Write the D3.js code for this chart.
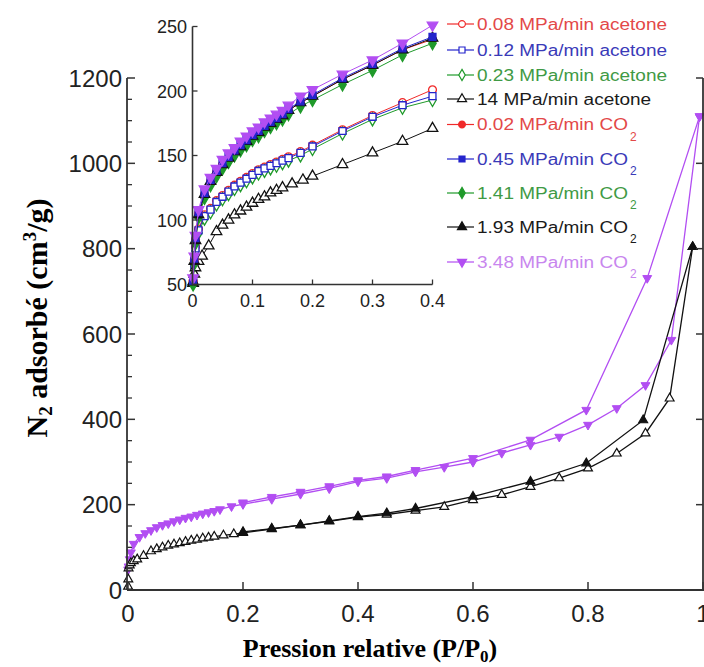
<!DOCTYPE html>
<html><head><meta charset="utf-8">
<script src="https://cdn.jsdelivr.net/npm/d3@7"></script>
<style>body{margin:0;background:#fff} svg{display:block}</style>
</head><body>
<svg id="c" width="704" height="667"></svg>
<script>
// ---------- tick labels ----------
const mainXTicks = [0, 0.2, 0.4, 0.6, 0.8, 1];
const mainXTickLabels = ["0", "0.2", "0.4", "0.6", "0.8", "1"];
const mainYTicks = [0, 200, 400, 600, 800, 1000, 1200];
const mainYMinorTicks = [50,100,150,250,300,350,450,500,550,650,700,750,850,900,950,1050,1100,1150];
const insetXTicks = [0, 0.1, 0.2, 0.3, 0.4];
const insetXTickLabels = ["0", "0.1", "0.2", "0.3", "0.4"];
const insetYTicks = [50, 100, 150, 200, 250];

// ---------- main plot data ----------
const magAdsX = [0.0003,0.001,0.003,0.005,0.01,0.02,0.03,0.04,0.05,0.06,0.07,0.08,0.09,0.10,0.11,0.12,0.13,0.14,0.15,0.16,0.18,0.20,0.25,0.30,0.35,0.40,0.45,0.50,0.55,0.60,0.65,0.70,0.75,0.80,0.85,0.90,0.945,0.994];
const magAdsY = [48,55,72,88,108,124,133,140,147,152,156,161,165,169,172,176,179,182,185,189,196,201,213,225,238,254,262,277,288,300,321,340,359,387,426,480,586,1110];
const magDesX = [0.994,0.903,0.797,0.70,0.60,0.50,0.45,0.40,0.35,0.30,0.25,0.20];
const magDesY = [1110,731,422,352,309,281,266,257,243,230,218,205];
const blkAdsX = [0.0002,0.0005,0.001,0.003,0.005,0.01,0.016,0.027,0.04,0.05,0.06,0.07,0.08,0.09,0.10,0.11,0.12,0.13,0.14,0.15,0.166,0.184,0.20,0.25,0.30,0.35,0.40,0.45,0.50,0.55,0.60,0.65,0.70,0.75,0.80,0.85,0.90,0.942,0.982];
const blkAdsY = [8,25,51,58,63,68,72,80,91,96,100,104,107,110,113,116,118,121,123,125,128,131,134,143,152,161,171,177,186,195,211,223,242,262,285,320,367,449,804];
const blkDesX = [0.982,0.896,0.797,0.70,0.60,0.50,0.45,0.40,0.35,0.30,0.25,0.20];
const blkDesY = [804,398,297,254,219,191,180,172,162,152,144,136];

// ---------- inset data ----------
const xCO2 = [0.001,0.003,0.005,0.01,0.02,0.03,0.04,0.05,0.06,0.07,0.08,0.09,0.10,0.11,0.12,0.13,0.14,0.15,0.16,0.18,0.20,0.25,0.30,0.35,0.40];
const co2_002 = [52,69,85,105,120,130,137,143,148,153,157,161,165,168,172,175,178,181,185,191,196,209,220,232,240];
const co2_045 = [53,70,86,106,121,131,138,144,149,154,158,162,166,169,173,176,179,182,186,192,197,210,221,233,242];
const co2_141 = [50,66,82,102,117,127,134,140,145,150,154,158,162,165,169,172,175,178,182,188,193,205,216,228,237];
const co2_193 = [52,68,84,104,120,130,137,143,148,153,157,161,165,168,172,175,178,181,185,191,196,209,220,232,241];
const co2_348 = [55,72,88,108,124,133,140,147,152,156,161,165,169,172,176,179,182,185,189,196,201,213,224,237,251];
const xAce = [0.001,0.003,0.005,0.01,0.02,0.03,0.04,0.05,0.06,0.07,0.08,0.09,0.10,0.11,0.12,0.13,0.14,0.15,0.16,0.18,0.20,0.25,0.30,0.35,0.40];
const ace_008 = [53,66,79,93,104,109,115,119,123,127,130,133,136,139,141,143,145,147,149,153,158,170,181,191,201];
const ace_012 = [52,65,78,92,103,108,114,118,122,126,129,132,135,138,140,142,144,146,148,152,157,169,180,189,196];
const ace_023 = [51,64,76,90,101,106,112,116,120,124,127,130,133,136,138,140,142,144,146,150,155,167,178,187,193];
const xAce14 = [0.001,0.003,0.005,0.01,0.016,0.027,0.04,0.05,0.06,0.07,0.08,0.09,0.10,0.11,0.12,0.13,0.14,0.15,0.166,0.184,0.20,0.25,0.30,0.35,0.40];
const ace_14 = [51,58,63,68,72,80,91,96,100,104,107,110,113,116,118,121,123,125,128,131,134,143,152,161,171];

// ---------- legend ----------
const legendNames = ["0.08 MPa/min acetone","0.12 MPa/min acetone","0.23 MPa/min acetone","14 MPa/min acetone",
  "0.02 MPa/min CO","0.45 MPa/min CO","1.41 MPa/min CO","1.93 MPa/min CO","3.48 MPa/min CO"];

const C = {red:"#f02a2a", blue:"#2424cc", green:"#1f9a2a", black:"#111111", mag:"#b24ef2"};
const T = {red:"#e34848", blue:"#3a3ab8", green:"#3f9a45", black:"#1a1a1a", mag:"#c886ee"};

const insetSeries = [
  {x:xAce, y:ace_008, col:"red", sym:"circle", fill:false},
  {x:xAce, y:ace_023, col:"green", sym:"diamond", fill:false},
  {x:xAce, y:ace_012, col:"blue", sym:"square", fill:false},
  {x:xAce14, y:ace_14, col:"black", sym:"triangle", fill:false},
  {x:xCO2, y:co2_002, col:"red", sym:"circle", fill:true},
  {x:xCO2, y:co2_141, col:"green", sym:"diamond", fill:true},
  {x:xCO2, y:co2_193, col:"black", sym:"triangle", fill:true},
  {x:xCO2, y:co2_045, col:"blue", sym:"square", fill:true},
  {x:xCO2, y:co2_348, col:"mag", sym:"down", fill:true}
];
const legendSpec = [
  {col:"red", sym:"circle", fill:false},{col:"blue", sym:"square", fill:false},
  {col:"green", sym:"diamond", fill:false},{col:"black", sym:"triangle", fill:false},
  {col:"red", sym:"circle", fill:true},{col:"blue", sym:"square", fill:true},
  {col:"green", sym:"diamond", fill:true},{col:"black", sym:"triangle", fill:true},
  {col:"mag", sym:"down", fill:true}
];
const legendY = [24, 50, 75, 99, 124.5, 159, 193, 227, 262];

const svg = d3.select("#c");
const SANS = "'Liberation Sans', Arial, sans-serif";
const SERIF = "'Liberation Serif', 'Times New Roman', serif";

function symPath(sym, size){
  const t = {circle:d3.symbolCircle, square:d3.symbolSquare, diamond:d3.symbolDiamond, triangle:d3.symbolTriangle, down:d3.symbolTriangle}[sym];
  return d3.symbol().type(t).size(size)();
}
function drawMarkers(g, xs, ys, sx, sy, col, sym, fill, size, sw){
  g.selectAll(null).data(xs.map((x,i)=>[x,ys[i]])).enter().append("path")
    .attr("d", symPath(sym, size))
    .attr("transform", d => `translate(${sx(d[0])},${sy(d[1])})` + (sym==="down" ? " rotate(180)" : ""))
    .attr("fill", fill ? C[col] : "#fff")
    .attr("stroke", C[col]).attr("stroke-width", sw);
}
function drawLine(g, xs, ys, sx, sy, col, w){
  const line = d3.line().x(d=>sx(d[0])).y(d=>sy(d[1]));
  g.append("path").attr("d", line(xs.map((x,i)=>[x,ys[i]])))
    .attr("fill","none").attr("stroke", C[col]).attr("stroke-width", w);
}

// ================= MAIN PLOT =================
const x = d3.scaleLinear().domain([0,1]).range([128,703]);
const y = d3.scaleLinear().domain([0,1200]).range([590,78]);
const AX = "#333";

const gm = svg.append("g");
drawLine(gm, magDesX, magDesY, x, y, "mag", 1.3);
drawLine(gm, magAdsX, magAdsY, x, y, "mag", 1.3);
drawLine(gm, blkDesX, blkDesY, x, y, "black", 1.3);
drawLine(gm, blkAdsX, blkAdsY, x, y, "black", 1.3);
drawMarkers(gm, magDesX, magDesY, x, y, "mag", "down", true, 34, 1);
drawMarkers(gm, magAdsX, magAdsY, x, y, "mag", "down", true, 34, 1);
drawMarkers(gm, blkAdsX, blkAdsY, x, y, "black", "triangle", false, 34, 1.2);
drawMarkers(gm, blkDesX, blkDesY, x, y, "black", "triangle", true, 34, 1.2);

const ga = svg.append("g").attr("stroke", AX).attr("fill","none");
ga.append("line").attr("x1",x(0)-1).attr("x2",704).attr("y1",y(0)).attr("y2",y(0)).attr("stroke-width",1.8);
ga.append("line").attr("x1",x(0)-1).attr("x2",x(0)-1).attr("y1",y(0)).attr("y2",y(1200)).attr("stroke-width",1.8);
ga.append("line").attr("x1",703).attr("x2",703).attr("y1",y(0)).attr("y2",y(1200)).attr("stroke-width",1.8);
mainYTicks.forEach(v=>{
  ga.append("line").attr("x1",x(0)-1).attr("x2",x(0)+7).attr("y1",y(v)).attr("y2",y(v)).attr("stroke-width",1.5);
  ga.append("line").attr("x1",703).attr("x2",696).attr("y1",y(v)).attr("y2",y(v)).attr("stroke-width",1.5);
});
mainYMinorTicks.forEach(v=>{
  ga.append("line").attr("x1",x(0)-1).attr("x2",x(0)+4).attr("y1",y(v)).attr("y2",y(v)).attr("stroke-width",1.3);
});
mainXTicks.forEach(v=>{
  ga.append("line").attr("x1",x(v)).attr("x2",x(v)).attr("y1",y(0)).attr("y2",y(0)-8).attr("stroke-width",1.5);
});
svg.append("g").selectAll(null).data(mainYTicks).enter().append("text")
  .attr("x", 122).attr("y", d=>y(d)+8.5).attr("text-anchor","end")
  .attr("font-family",SANS).attr("font-size",24).attr("fill","#222").text(d=>d);
svg.append("g").selectAll(null).data(mainXTicks).enter().append("text")
  .attr("x", d=>x(d)).attr("y", 622).attr("text-anchor","middle")
  .attr("font-family",SANS).attr("font-size",24).attr("fill","#222").text((d,i)=>mainXTickLabels[i]);

const xt = svg.append("text").attr("x", 370).attr("y", 657).attr("text-anchor","middle")
  .attr("font-family",SERIF).attr("font-weight","bold").attr("font-size",26).attr("fill","#000");
xt.append("tspan").text("Pression relative (P/P");
xt.append("tspan").attr("font-size",17).attr("dy",5).text("0");
xt.append("tspan").attr("dy",-5).text(")");

const yt = svg.append("text").attr("transform","translate(47,318) rotate(-90)").attr("text-anchor","middle")
  .attr("font-family",SERIF).attr("font-weight","bold").attr("font-size",30).attr("fill","#000");
yt.append("tspan").text("N");
yt.append("tspan").attr("font-size",19).attr("dy",5).text("2");
yt.append("tspan").attr("dy",-5).text(" adsorbé (cm");
yt.append("tspan").attr("font-size",19).attr("dy",-11).text("3");
yt.append("tspan").attr("dy",11).text("/g)");

// ================= INSET =================
const ix = d3.scaleLinear().domain([0,0.4]).range([192.5,432.5]);
const iy = d3.scaleLinear().domain([50,250]).range([284.5,26.5]);
const gi = svg.append("g");
insetSeries.forEach(s=>{
  drawLine(gi, s.x, s.y, ix, iy, s.col, 1);
  drawMarkers(gi, s.x, s.y, ix, iy, s.col, s.sym, s.fill, 48, 1.3);
});
const gia = svg.append("g").attr("stroke", AX).attr("fill","none");
gia.append("line").attr("x1",ix(0)).attr("x2",ix(0.4)).attr("y1",iy(50)).attr("y2",iy(50)).attr("stroke-width",1.6);
gia.append("line").attr("x1",ix(0)).attr("x2",ix(0)).attr("y1",iy(50)).attr("y2",iy(250)).attr("stroke-width",1.6);
insetYTicks.forEach(v=>{
  gia.append("line").attr("x1",ix(0)).attr("x2",ix(0)+5).attr("y1",iy(v)).attr("y2",iy(v)).attr("stroke-width",1.3);
});
insetXTicks.forEach(v=>{
  gia.append("line").attr("x1",ix(v)).attr("x2",ix(v)).attr("y1",iy(50)).attr("y2",iy(50)-5).attr("stroke-width",1.3);
});
svg.append("g").selectAll(null).data(insetYTicks).enter().append("text")
  .attr("x", 187).attr("y", d=>iy(d)+6.5).attr("text-anchor","end")
  .attr("font-family",SANS).attr("font-size",18).attr("fill","#222").text(d=>d);
svg.append("g").selectAll(null).data(insetXTicks).enter().append("text")
  .attr("x", d=>ix(d)).attr("y", 307).attr("text-anchor","middle")
  .attr("font-family",SANS).attr("font-size",18).attr("fill","#222").text((d,i)=>insetXTickLabels[i]);

// ================= LEGEND =================
const gl = svg.append("g");
let kScale = null;
legendNames.forEach((name,i)=>{
  const s = legendSpec[i], yy = legendY[i];
  gl.append("line").attr("x1",447).attr("x2",474).attr("y1",yy).attr("y2",yy).attr("stroke",C[s.col]).attr("stroke-width",1.2);
  gl.append("path").attr("d", symPath(s.sym, 36))
    .attr("transform", `translate(462,${yy})` + (s.sym==="down"?" rotate(180)":""))
    .attr("fill", s.fill ? C[s.col] : "#fff").attr("stroke", C[s.col]).attr("stroke-width",1.2);
  const t = gl.append("text").attr("x",477).attr("y",yy+5.5)
    .attr("font-family",SANS).attr("font-size",16).attr("fill",T[s.col]).text(name);
  const nat = t.node().getComputedTextLength();
  if (kScale === null) kScale = 190 / nat;
  const w = nat * kScale;
  t.attr("textLength", w).attr("lengthAdjust","spacingAndGlyphs");
  if (i >= 4) {
    gl.append("text").attr("x", 477 + w + 2).attr("y", yy + 16)
      .attr("font-family",SANS).attr("font-size",12).attr("fill",T[s.col]).text("2");
  }
});
</script>
</body></html>
